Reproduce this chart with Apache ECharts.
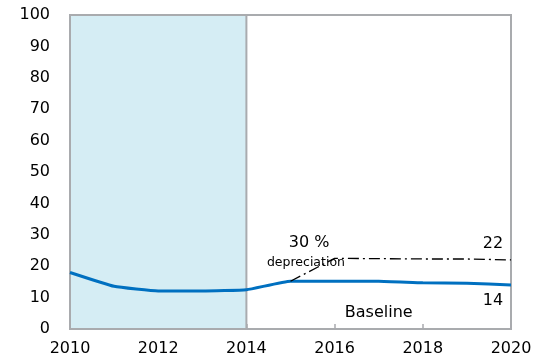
<!DOCTYPE html>
<html>
<head>
<meta charset="utf-8">
<script src="https://cdn.jsdelivr.net/npm/echarts@6/dist/echarts.min.js"></script>
<style>
  html, body { margin: 0; padding: 0; background: #fff; }
  #chart { width: 537px; height: 364px; }
</style>
</head>
<body>
<div id="chart"></div>
<script>
// Years and the two paths of the ratio
const years = [2010, 2011, 2012, 2013, 2014, 2015, 2016, 2017, 2018, 2019, 2020];
const baseline = [18, 13.6, 12.1, 12.1, 12.5, 15.2, 15.2, 15.2, 14.7, 14.6, 14];
const depYears = [2015, 2016, 2017, 2018, 2019, 2020];
const depreciation = [15.2, 22.5, 22.4, 22.3, 22.3, 22];
const historyRange = [2010, 2014];
const yTicks = { min: 0, max: 100, step: 10 };
const xTicks = { min: 2010, max: 2020, step: 2 };

// Annotation texts, anchored in data units (offsets in pixels)
const notes = [
  { text: '14', at: [2020, 14], offset: [-18, 16], size: 16 },
  { text: 'Baseline', at: [2017, 14], offset: [0, 28], size: 16 },
  { text: '22', at: [2020, 22], offset: [-18, -16], size: 16 },
  { text: '30 %', at: [2015.42, 27.8], offset: [0, 1.5], size: 16 },
  { text: 'depreciation', at: [2015.35, 21.4], offset: [0, 0.5], size: 12.5 }
];

const FONT = 'DejaVu Sans';
const GRAY = '#a9abae';
const INK = '#000';

const chart = echarts.init(document.getElementById('chart'), null, { renderer: 'canvas' });

chart.setOption({
  animation: false,
  grid: {
    left: 70, right: 26, top: 15, bottom: 35,
    show: true, borderColor: GRAY, borderWidth: 2, backgroundColor: 'transparent'
  },
  xAxis: {
    type: 'value',
    min: xTicks.min, max: xTicks.max, interval: xTicks.step,
    axisLine: { show: true, lineStyle: { color: GRAY, width: 2 } },
    axisTick: { show: true, inside: true, length: 5, lineStyle: { color: GRAY, width: 1.5 } },
    axisLabel: { color: INK, fontFamily: FONT, fontSize: 16, margin: 12, formatter: v => String(v) },
    splitLine: { show: false }
  },
  yAxis: {
    type: 'value',
    min: yTicks.min, max: yTicks.max, interval: yTicks.step,
    axisLine: { show: true, lineStyle: { color: GRAY, width: 2 } },
    axisTick: { show: true, inside: true, length: 5, lineStyle: { color: GRAY, width: 1.5 } },
    axisLabel: { color: INK, fontFamily: FONT, fontSize: 16, margin: 20 },
    splitLine: { show: false }
  },
  series: [
    {
      name: 'Baseline',
      type: 'line',
      data: years.map((y, i) => [y, baseline[i]]),
      showSymbol: false,
      smooth: 0.12,
      lineStyle: { color: '#0070c0', width: 3 },
      z: 3,
      markArea: {
        silent: true,
        itemStyle: { color: '#d5edf4', borderColor: GRAY, borderWidth: 2 },
        data: [[{ xAxis: historyRange[0], yAxis: yTicks.min }, { xAxis: historyRange[1], yAxis: yTicks.max }]]
      }
    },
    {
      name: '30 % depreciation',
      type: 'line',
      data: depYears.map((y, i) => [y, depreciation[i]]),
      showSymbol: false,
      lineStyle: { color: '#000', width: 1.3, type: [11, 4, 2, 4] },
      z: 4
    }
  ]
});

// Place the annotations through the chart's own coordinate conversion
chart.setOption({
  graphic: notes.map(n => {
    const p = chart.convertToPixel({ gridIndex: 0 }, n.at);
    return {
      type: 'text',
      x: p[0] + n.offset[0],
      y: p[1] + n.offset[1],
      z: 10,
      silent: true,
      style: {
        text: n.text,
        fill: INK,
        font: n.size + 'px "' + FONT + '"',
        align: 'center',
        verticalAlign: 'middle'
      }
    };
  })
});
</script>
</body>
</html>
